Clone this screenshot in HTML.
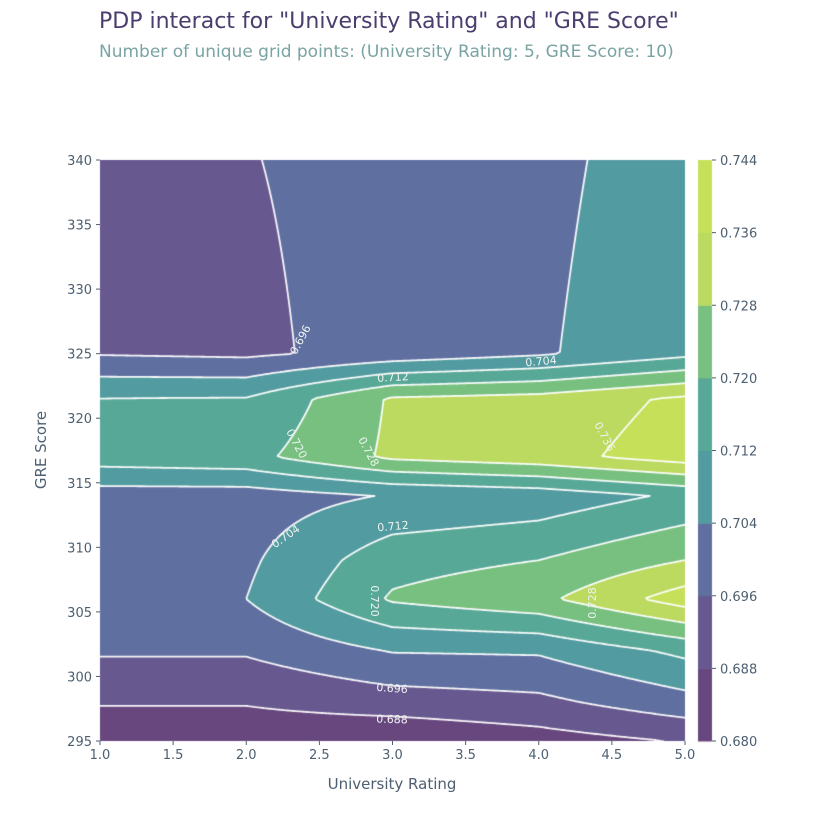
<!DOCTYPE html>
<html><head><meta charset="utf-8"><style>
body{margin:0;background:#fff;width:817px;height:819px;overflow:hidden;font-family:"DejaVu Sans","Liberation Sans",sans-serif;position:relative}
.t{position:absolute;white-space:nowrap}
canvas{position:absolute;left:0;top:0}
svg{position:absolute;left:0;top:0}
</style></head><body>
<div class="t" style="left:99px;top:9px;font-size:22px;color:#4b3d6e">PDP interact for "University Rating" and "GRE Score"</div>
<div class="t" style="left:99px;top:42px;font-size:17px;color:#7aa3a3">Number of unique grid points: (University Rating: 5, GRE Score: 10)</div>
<canvas id="cv" width="817" height="819"></canvas>
<svg id="ov" width="817" height="819"></svg>
<script>
const xs = [1, 2, 3, 4, 5];
const ys = [295, 298, 302, 306, 309, 314, 317, 321.5, 325, 340];
const r295 = [0.683, 0.683, 0.681, 0.6845, 0.6885];
const r298 = [0.6885, 0.6885, 0.692, 0.694, 0.701];
const r302 = [0.697, 0.697, 0.7045, 0.705, 0.714];
const r306 = [0.700, 0.704, 0.721, 0.726, 0.740];
const r309 = [0.700, 0.7025, 0.717, 0.720, 0.728];
const r314 = [0.700, 0.700, 0.7045, 0.707, 0.7135];
const r317 = [0.716, 0.7175, 0.7295, 0.733, 0.740];
const r3215 = [0.7122, 0.7125, 0.729, 0.731, 0.7375];
const r325 = [0.6955, 0.6945, 0.699, 0.703, 0.710];
const r340 = [0.690, 0.6957, 0.6985, 0.702, 0.708];
const rows = [r295, r298, r302, r306, r309, r314, r317, r3215, r325, r340];
const levels = [0.680, 0.688, 0.696, 0.704, 0.712, 0.720, 0.728, 0.736, 0.744];
const xTicks = [1.0, 1.5, 2.0, 2.5, 3.0, 3.5, 4.0, 4.5, 5.0];
const yTicks = [295, 300, 305, 310, 315, 320, 325, 330, 335, 340];
const colors = ['#68467e','#67588f','#5f6fa0','#529ba0','#58a898','#78c080','#bcd960','#c6e05a'];

const L=100,R=685,T=160,B=741;
const X0=xs[0],X1=xs[xs.length-1],Y0=ys[0],Y1=ys[ys.length-1];
function px(x){return L+(x-X0)/(X1-X0)*(R-L);}
function py(g){return B-(g-Y0)/(Y1-Y0)*(B-T);}
function valAt(x,g){
  let i=0;while(i<xs.length-2&&x>xs[i+1])i++;
  let j=0;while(j<ys.length-2&&g>ys[j+1])j++;
  const tx=Math.min(1,Math.max(0,(x-xs[i])/(xs[i+1]-xs[i])));
  const ty=Math.min(1,Math.max(0,(g-ys[j])/(ys[j+1]-ys[j])));
  const a=rows[j][i],b=rows[j][i+1],c=rows[j+1][i],d=rows[j+1][i+1];
  return a*(1-tx)*(1-ty)+b*tx*(1-ty)+c*(1-tx)*ty+d*tx*ty;
}
function inv(pxv,pyv){return [X0+(pxv-L)/(R-L)*(X1-X0), Y0+(B-pyv)/(B-T)*(Y1-Y0)];}
const cv=document.getElementById('cv');const ctx=cv.getContext('2d');
function hex(c){return [parseInt(c.substr(1,2),16),parseInt(c.substr(3,2),16),parseInt(c.substr(5,2),16)];}
const rgb=colors.map(hex);
const W=R-L,H=B-T;
const img=ctx.createImageData(W,H);
for(let yy=0;yy<H;yy++){for(let xx=0;xx<W;xx++){
  const [x,g]=inv(L+xx+0.5,T+yy+0.5);const v=valAt(x,g);
  let k=Math.floor((v-levels[0])/(levels[1]-levels[0]));k=Math.max(0,Math.min(colors.length-1,k));
  const o=(yy*W+xx)*4;img.data[o]=rgb[k][0];img.data[o+1]=rgb[k][1];img.data[o+2]=rgb[k][2];img.data[o+3]=255;}}
ctx.putImageData(img,L,T);
const st=2;const nx=Math.ceil(W/st)+1,ny=Math.ceil(H/st)+1;
const G=[];for(let j=0;j<ny;j++){G.push([]);for(let i=0;i<nx;i++){const [x,g]=inv(L+Math.min(i*st,W),T+Math.min(j*st,H));G[j].push(valAt(x,g));}}
ctx.strokeStyle='rgba(255,255,255,0.95)';ctx.lineWidth=1.8;ctx.lineCap='round';
for(let li=1;li<levels.length-1;li++){const lv=levels[li];ctx.beginPath();
 for(let j=0;j<ny-1;j++)for(let i=0;i<nx-1;i++){
  const p=[[i,j,G[j][i]],[i+1,j,G[j][i+1]],[i+1,j+1,G[j+1][i+1]],[i,j+1,G[j+1][i]]];
  const pts=[];
  for(let e=0;e<4;e++){const a=p[e],b=p[(e+1)%4];if((a[2]-lv)*(b[2]-lv)<0){const t=(lv-a[2])/(b[2]-a[2]);pts.push([L+(a[0]+(b[0]-a[0])*t)*st,T+(a[1]+(b[1]-a[1])*t)*st]);}}
  for(let q=0;q+1<pts.length;q+=2){ctx.moveTo(pts[q][0],pts[q][1]);ctx.lineTo(pts[q+1][0],pts[q+1][1]);}
 }ctx.stroke();}
const CL=698,CR=712;
for(let k=0;k<colors.length;k++){ctx.fillStyle=colors[k];const y1=B-(k+1)/colors.length*(B-T),y0=B-k/colors.length*(B-T);ctx.fillRect(CL,y1,CR-CL,y0-y1+0.5);}
const NS='http://www.w3.org/2000/svg';const ov=document.getElementById('ov');
function el(t,a,txt){const e=document.createElementNS(NS,t);for(const k in a)e.setAttribute(k,a[k]);if(txt!==undefined)e.textContent=txt;ov.appendChild(e);return e;}
const tc='#4d5f70';
xTicks.forEach(v=>{const x=px(v);
 const tk=el('line',{x1:x,x2:x,y1:B,y2:B+4,stroke:tc});
 
 
 const tl=el('text',{x:x,y:B+18,'text-anchor':'middle','font-size':13,fill:tc},v.toFixed(1));
 
 });
yTicks.forEach(v=>{const y=py(v);
 const tk=el('line',{x1:L-4,x2:L,y1:y,y2:y,stroke:tc});
 
 
 const tl=el('text',{x:L-8,y:y+5,'text-anchor':'end','font-size':13,fill:tc},String(v));
 
 });
levels.forEach((v,k)=>{const y=B-k/(levels.length-1)*(B-T);
 const tk=el('line',{x1:CR,x2:CR+4,y1:y,y2:y,stroke:tc});
 
 
 const tl=el('text',{x:CR+8,y:y+5,'font-size':13,fill:tc},v.toFixed(3));
 
 });
const xt=el('text',{x:392,y:789,'text-anchor':'middle','font-size':15,fill:tc},'University Rating');


const yt=el('text',{x:0,y:0,'text-anchor':'middle','font-size':15,fill:tc,transform:'translate(46,450) rotate(-90)'},'GRE Score');


const labels=[['0.696',301,340,-62],['0.704',541,362,-5],['0.712',393,378,-3],['0.720',296,444,62],['0.728',368,452,62],['0.736',604,437,62],['0.704',286,537,-35],['0.712',393,527,-5],['0.720',374,601,90],['0.728',593,603,-90],['0.696',392,689,4],['0.688',392,720,2]];
labels.forEach(a=>{const t=el('text',{x:a[1],y:a[2],'text-anchor':'middle','font-size':11,fill:'#eef2f0','dominant-baseline':'middle',transform:'rotate('+a[3]+' '+a[1]+' '+a[2]+')'},a[0]);
 
 });
</script>
</body></html>
